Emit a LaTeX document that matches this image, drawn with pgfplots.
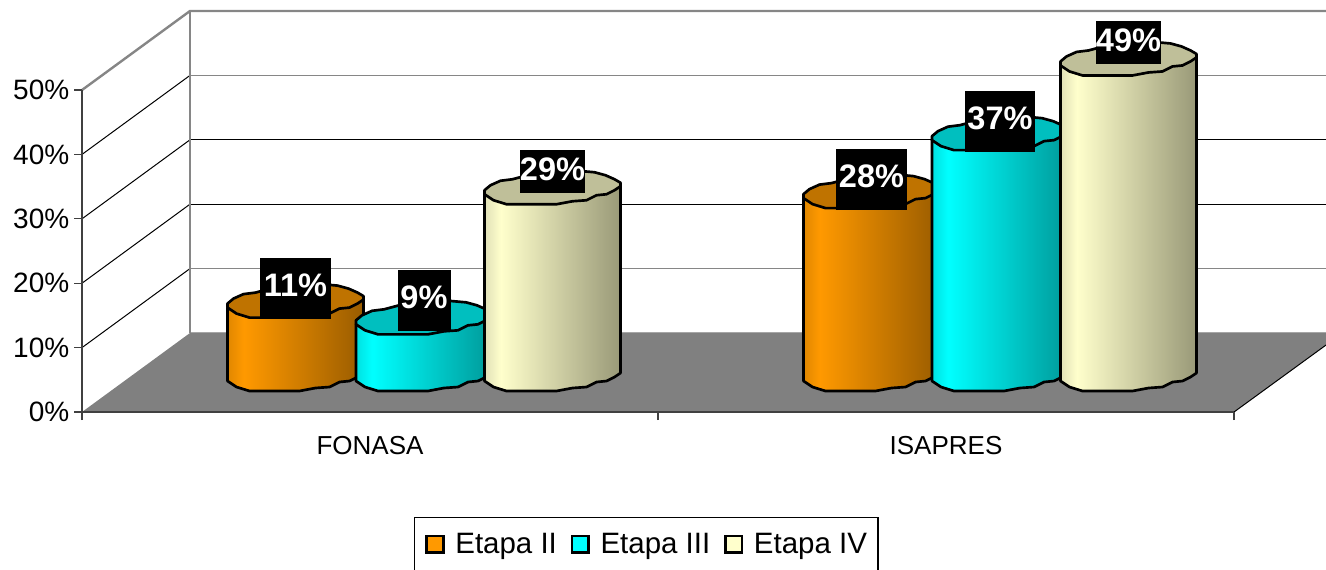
\documentclass[border=0pt]{standalone}
\usepackage{pgfplots}
\pgfplotsset{compat=1.18}
\usepackage{fontspec}
\setmainfont{Liberation Sans}
\usetikzlibrary{plotmarks}
\definecolor{floorc}{HTML}{808080}
\definecolor{wall}{HTML}{868686}
\definecolor{axisc}{HTML}{404040}
\definecolor{lo}{HTML}{FF9900}
\definecolor{lc}{HTML}{00FFFF}
\definecolor{ly}{HTML}{FFFFCC}
\definecolor{topO}{HTML}{BF7300}
\definecolor{topC}{HTML}{00BFBF}
\definecolor{topY}{HTML}{BFBF99}
\pgfdeclarehorizontalshading{bodyO}{100bp}{rgb(0bp)=(.88,.53,0); rgb(25bp)=(.88,.53,0); rgb(31bp)=(1,.6,0); rgb(75bp)=(.60,.36,0); rgb(100bp)=(.60,.36,0)}
\pgfdeclarehorizontalshading{bodyC}{100bp}{rgb(0bp)=(0,.88,.88); rgb(25bp)=(0,.88,.88); rgb(31bp)=(0,1,1); rgb(75bp)=(0,.60,.60); rgb(100bp)=(0,.60,.60)}
\pgfdeclarehorizontalshading{bodyY}{100bp}{rgb(0bp)=(.88,.88,.72); rgb(25bp)=(.88,.88,.72); rgb(31bp)=(1,1,.8); rgb(75bp)=(.60,.60,.47); rgb(100bp)=(.60,.60,.47)}
% One pixel of the reference is 0.75pt; one unit of value is 6.44 px.
% #1 category x, #2 value, #3 series offset (pt), #4 series letter
% The whole cylinder is the mark of the data point (x, value), drawn from its top centre down to the floor.
\newcommand{\cyl}[4]{%
  \pgfdeclareplotmark{cyl#1#4}{%
    \begin{scope}[x=0.75pt,y=0.75pt,line width=2pt,line join=round]
    \path[shade,shading=body#4,draw=black]
      (-68,-6) -- (68,2) -- (68,{2-#2*6.44}) -- (62,{-2-#2*6.44}) -- (54,{-6-#2*6.44}) -- (44,{-7-#2*6.44})
      -- (34,{-12-#2*6.44}) -- (20,{-13-#2*6.44}) -- (4,{-16-#2*6.44}) -- (-46,{-16-#2*6.44})
      -- (-59,{-12-#2*6.44}) -- (-68,{-6-#2*6.44}) -- cycle;
    \draw[fill=top#4]
      (-68,-2) -- (-62,3) -- (-52,7.5) -- (-40,9) -- (-25,13) -- (-10,14.5) -- (8,16.5) -- (25,17.5)
      -- (42,16) -- (53,13) -- (62,9) -- (68,5.5) -- (68,2) -- (62,-2) -- (54,-6) -- (44,-7) -- (34,-12)
      -- (20,-13) -- (4,-16) -- (-46,-16) -- (-59,-12) -- (-68,-6) -- cycle;
    \end{scope}}%
  \addplot[forget plot,only marks,mark=cyl#1#4,xshift=#3,yshift=27.75pt] coordinates {(#1,#2)};
}
% #1 x, #2 value, #3 offset (pt), #4 box width, #5 text height, #6 text depth, #7 label shift
\newcommand{\lab}[7]{%
  \addplot[forget plot,only marks,mark=none,xshift=#3,yshift=27.75pt,point meta=y,
    nodes near coords={\pgfmathprintnumber[fixed,precision=0,assume math mode=true]{\pgfplotspointmeta}\%},
    nodes near coords style={anchor=center,yshift=#7,fill=black,text=white,inner sep=0pt,
      minimum width=#4,text height=#5,text depth=#6,
      font=\fontsize{24.4}{26}\selectfont\bfseries}] coordinates {(#1,#2)};
}
\newcommand{\gline}[2]{\addplot[forget plot,#2] coordinates {#1};}
\begin{document}
\begin{tikzpicture}
\path[use as bounding box] (-61.5pt,-117.75pt) rectangle (933pt,309pt);
\begin{axis}[
  scale only axis,width=864pt,height=241.5pt,
  xmin=0,xmax=2,ymin=0,ymax=50,clip=false,
  axis on top=true,
  axis x line=bottom,axis y line=left,
  x axis line style={-,draw=axisc,line width=2pt},
  y axis line style={-,draw=axisc,line width=1.5pt},
  tick align=outside,major tick length=6pt,
  tick style={draw=axisc,line width=1pt},
  xtick={0,1,2},xticklabels={,,},
  extra x ticks={0.5,1.5},extra x tick labels={FONASA,ISAPRES},
  extra x tick style={major tick length=0pt,tick label style={yshift=-14.5pt,font=\fontsize{19.5}{22}\selectfont}},
  ytick={0,10,20,30,40,50},yticklabels={0\%,10\%,20\%,30\%,40\%,50\%},
  yticklabel style={font=\fontsize{21}{24}\selectfont},
  legend columns=3,
  legend cell align=left,
  legend style={at={(axis cs:0.5764,-16.3)},anchor=north west,draw=black,line width=1pt,
    font=\fontsize{22.1}{26}\selectfont,
    inner xsep=6.25pt,inner ysep=9.5pt,
    /tikz/every even column/.append style={column sep=6.5pt},
    /tikz/every odd column/.append style={column sep=6pt}},
  legend image code/.code={\path (0pt,0pt);\draw[#1,draw=black,line width=2pt] (2.25pt,-6.5pt) rectangle (14.75pt,6pt);},
]
\addlegendimage{fill=lo}\addlegendentry{Etapa II}
\addlegendimage{fill=lc}\addlegendentry{Etapa III}
\addlegendimage{fill=ly}\addlegendentry{Etapa IV}
% floor
\addplot[forget plot,fill=floorc,draw=none] coordinates {(0,0)(0.1875,12.27)(2.1597,12.27)(2.1597,10.4)(2,0)} --cycle;
\gline{(2,0)(2.1597,10.4)}{black,line width=0.75pt}
\gline{(0.1875,12.27)(2.1597,12.27)}{color=gray!70,line width=0.75pt}
% walls and gridlines
\gline{(0,10)(0.1875,22.27)}{black,line width=0.75pt}
\gline{(0,20)(0.1875,32.27)}{black,line width=0.75pt}
\gline{(0,30)(0.1875,42.27)}{black,line width=0.75pt}
\gline{(0,40)(0.1875,52.27)}{black,line width=0.75pt}
\gline{(0.1875,22.27)(2.1597,22.27)}{wall,line width=1.2pt}
\gline{(0.1875,32.27)(2.1597,32.27)}{black,line width=0.75pt}
\gline{(0.1875,42.27)(2.1597,42.27)}{black,line width=0.75pt}
\gline{(0.1875,52.27)(2.1597,52.27)}{wall,line width=1.2pt}
\gline{(0.1875,12.27)(0.1875,62.27)}{wall,line width=1.8pt}
\gline{(0,50)(0.1875,62.27)(2.1597,62.27)}{wall,line width=1.8pt}
% cylinders
\cyl{0.5}{11.4}{-55.875pt}{O}
\cyl{0.5}{8.8}{40.5pt}{C}
\cyl{0.5}{29}{136.875pt}{Y}
\cyl{1.5}{28.4}{-55.875pt}{O}
\cyl{1.5}{37.4}{40.5pt}{C}
\cyl{1.5}{49}{136.875pt}{Y}
% value labels
\lab{0.5}{11.4}{-55.875pt}{53.25pt}{28.9pt}{16.9pt}{9.75pt}
\lab{0.5}{8.8}{40.5pt}{39.75pt}{28.9pt}{16.9pt}{13.35pt}
\lab{0.5}{29}{136.875pt}{45.75pt}{22.9pt}{9.4pt}{12.5pt}
\lab{1.5}{28.4}{-55.875pt}{53.25pt}{28.9pt}{16.9pt}{9.45pt}
\lab{1.5}{37.4}{40.5pt}{52.5pt}{28.9pt}{16.9pt}{9.45pt}
\lab{1.5}{49}{136.875pt}{45.75pt}{22.9pt}{9.4pt}{12.7pt}
\end{axis}
\end{tikzpicture}
\end{document}
